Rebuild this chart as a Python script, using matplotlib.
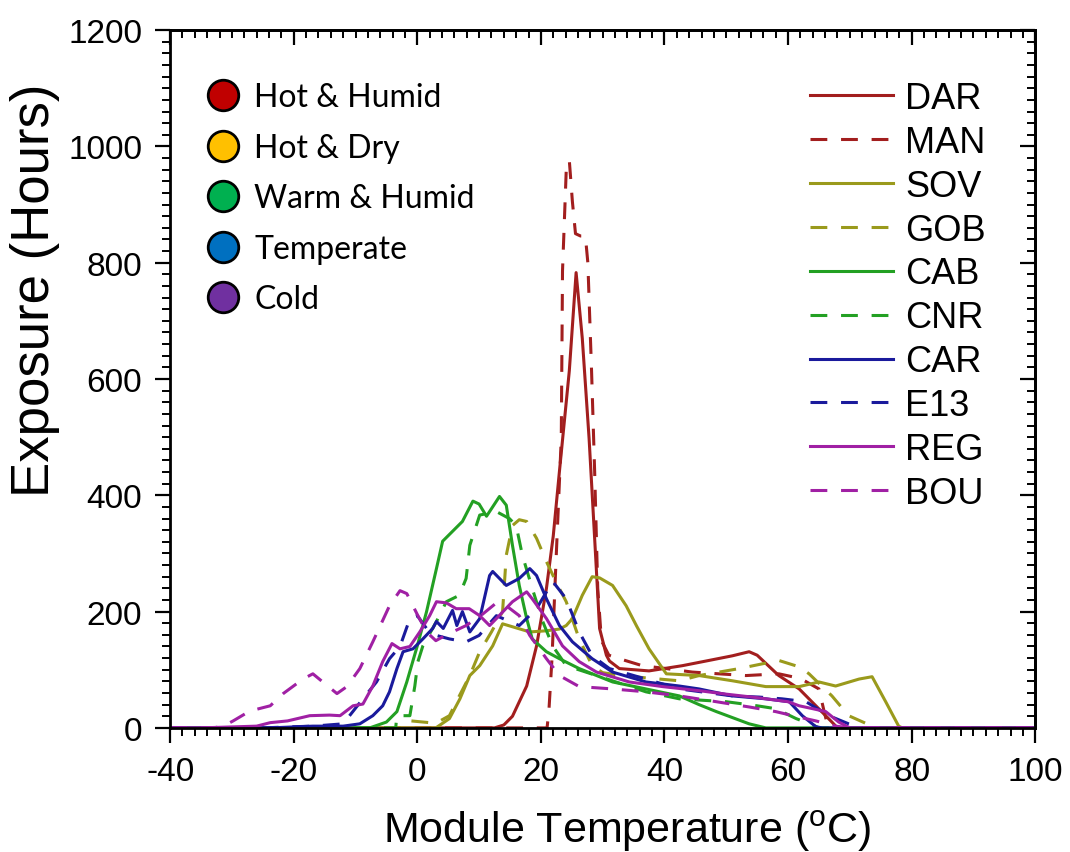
import matplotlib
matplotlib.use("Agg")
import matplotlib.pyplot as plt
from matplotlib.lines import Line2D
from matplotlib.ticker import MultipleLocator

plt.rcParams['font.family'] = ['Liberation Sans', 'DejaVu Sans']
plt.rcParams['mathtext.fontset'] = 'custom'
plt.rcParams['mathtext.rm'] = 'Liberation Sans'
plt.rcParams['axes.unicode_minus'] = False

# module temperature (C) vs exposure (hours)
DAR_x = [-40, 12.5, 14, 15.4, 17.7, 19.3, 20.9, 22, 23, 24.6, 25.7, 26.7, 27.8, 28.7, 29.5, 30.6, 31.1,
         32.7, 37.5, 42.9, 47.2, 51, 53.7, 55, 58.5, 61.8, 64.5, 67.1, 68, 100]
DAR_y = [0, 0, 5, 20, 72, 141, 240, 330, 441, 614, 783, 670, 498, 326, 171, 125, 115,
         102, 98, 107, 116, 124, 131, 125, 90, 67, 38, 10, 0, 0]

MAN_x = [-40, 21.0, 21.3, 21.8, 22.5, 23.3, 23.5, 24.1, 24.6, 25.1, 25.6, 26.4, 27.2, 27.6, 28.2, 28.7,
         29.2, 29.8, 31.0, 32.7, 36.4, 40.3, 44.5, 48.8, 53.2, 58.5, 62, 65, 65.8, 66.5, 100]
MAN_y = [0, 0, 30, 120, 300, 498, 786, 958, 976, 905, 850, 846, 846, 800, 614, 441,
         240, 150, 125, 119, 107, 102, 96, 93, 90, 93, 85, 67, 30, 0, 0]

SOV_x = [-40, 3.0, 5.2, 6.9, 8.5, 10.1, 12.2, 13.8, 16, 18.2, 20.9, 23, 24.1, 25.1, 26.7, 28.3, 29.5,
         31.6, 33.8, 35.5, 37.5, 40.3, 45.6, 51, 56.4, 61.8, 65, 67.7, 71.5, 73.6, 75.8, 77.9, 78.5, 100]
SOV_y = [0, 0, 16, 50, 90, 107, 141, 179, 172, 165, 167, 170, 176, 188, 228, 260, 258,
         245, 210, 175, 136, 93, 90, 81, 71, 71, 79, 72, 84, 88, 45, 3, 0, 0]

GOB_x = [-40, -2, -1, 1, 3, 5.2, 6.8, 8.5, 10.1, 12, 13.8, 14.4, 15.4, 16.5, 17.7, 19.3, 20.9, 22.5,
         24.1, 26.2, 28.3, 30, 33, 37, 42.4, 45.6, 52.1, 58.5, 61.8, 63.4, 67.1, 69.8, 73.6, 74.5, 100]
GOB_y = [0, 0, 12, 10, 8, 21, 55, 90, 131, 165, 200, 297, 348, 358, 355, 326, 286, 250,
         217, 153, 107, 95, 90, 86, 81, 90, 102, 116, 105, 93, 55, 21, 3, 0, 0]

CAB_x = [-40, -7.7, -5, -3.3, -1.7, 0, 1.5, 3.1, 4.1, 5.7, 7.3, 9, 10, 11.2, 12.5, 13.3, 14.4, 15.4,
         16.5, 17.7, 18.6, 20.9, 23, 26.2, 31.6, 37, 42.4, 45.6, 48.4, 53.7, 56.4, 100]
CAB_y = [0, 0, 10, 28, 79, 141, 200, 274, 321, 338, 355, 390, 385, 364, 385, 398, 383, 314,
         245, 188, 153, 131, 119, 102, 79, 67, 55, 40, 28, 7, 0, 0]

CNR_x = [-40, -3.5, -3.3, -1.2, -0.4, 0.1, 0.9, 3.1, 4.7, 6.8, 7.9, 8.5, 10.1, 12.8, 14.9, 16, 17,
         18.6, 20.3, 21.9, 24.1, 29, 37, 42.4, 50, 55, 58, 61.3, 64, 65, 100]
CNR_y = [0, 0, 21, 21, 72, 114, 141, 183, 217, 228, 257, 314, 366, 372, 360, 348, 297,
         240, 183, 141, 107, 90, 62, 50, 45, 38, 33, 16, 5, 0, 0]

CAR_x = [-40, -23.8, -16.9, -12, -9.3, -7.2, -5.6, -4.5, -3.3, -2.3, -0.7, 0.9, 2.5, 3.1, 4.2, 5.7,
         6.4, 7.3, 8.5, 10.1, 11.7, 12.2, 14.4, 16.5, 18.2, 19.3, 20.9, 23, 25.1, 28.3, 31.6, 37,
         42.4, 45.6, 51, 56.4, 60.2, 62.3, 64.5, 65.5, 100]
CAR_y = [0, 0, 3, 3, 7, 21, 38, 62, 102, 131, 136, 153, 171, 183, 171, 202,
         176, 200, 165, 188, 262, 269, 245, 257, 274, 262, 222, 176, 148, 119, 96, 79,
         72, 67, 55, 50, 45, 21, 2, 0, 0]

E13_x = [-40, -25, -20, -16.9, -12, -8.8, -6.6, -4.5, -2.8, -1.2, 0, 1.5, 3.1, 5.2, 7.9, 10, 12.8,
         14.5, 16.5, 19.3, 21.9, 24.1, 26.2, 28.3, 31.1, 37, 42.4, 51, 55.3, 59, 62.9, 66.6, 69.8,
         71.9, 100]
E13_y = [0, 0, 2, 3, 7, 50, 79, 119, 140, 188, 193, 171, 159, 153, 148, 159, 193,
         185, 176, 205, 252, 222, 165, 124, 102, 84, 67, 55, 53, 50, 45, 21, 7,
         0, 0]

REG_x = [-40, -35, -26, -23.8, -21, -17.4, -14.2, -12.5, -10.4, -8.8, -7.2, -5.6, -4.1, -2.8, -1.2,
         0.4, 2, 3.1, 4.7, 6.3, 8.4, 10.1, 11.7, 12.8, 15.4, 17.7, 18.6, 20.9, 23.5, 26.2, 29, 34.3,
         39.7, 45.6, 50, 55, 60, 61.8, 64, 66.1, 68.2, 70, 100]
REG_y = [0, 0, 3, 9, 12, 21, 22, 21, 38, 41, 72, 114, 145, 136, 140,
         165, 193, 217, 215, 205, 205, 193, 176, 188, 217, 234, 222, 188, 141, 114, 96, 79,
         71, 64, 58, 52, 45, 38, 33, 28, 10, 0, 0]

BOU_x = [-40, -33, -31.4, -29.8, -27.1, -23.8, -21.7, -18.5, -16.9, -15.3, -13, -11.4, -9.3, -7.2,
         -4.5, -2.8, -1.7, 0, 1.5, 3, 4.7, 7.9, 10.5, 12.8, 14.4, 16.5, 18.2, 20.9, 23, 26.2, 31.6,
         37, 42.4, 48.4, 53.7, 58, 62, 64.5, 67.7, 70, 100]
BOU_y = [0, 0, 3, 12, 29, 38, 59, 84, 93, 79, 59, 71, 102, 148,
         210, 236, 231, 195, 165, 150, 160, 176, 195, 215, 210, 193, 159, 119, 90, 71, 67,
         62, 55, 45, 36, 28, 18, 12, 3, 0, 0]

climates = ['Hot & Humid', 'Hot & Dry', 'Warm & Humid', 'Temperate', 'Cold']
climate_colors = ['#C00000', '#FFC000', '#00B050', '#0070C0', '#7030A0']

red, olive, green, blue, purple = '#A21E1E', '#9A9A1C', '#23A023', '#1A1A9C', '#A020A4'
dashed = (0, (5.5, 4.5))

series = [
    ('DAR', DAR_x, DAR_y, red, '-'),
    ('MAN', MAN_x, MAN_y, red, dashed),
    ('SOV', SOV_x, SOV_y, olive, '-'),
    ('GOB', GOB_x, GOB_y, olive, dashed),
    ('CAB', CAB_x, CAB_y, green, '-'),
    ('CNR', CNR_x, CNR_y, green, dashed),
    ('CAR', CAR_x, CAR_y, blue, '-'),
    ('E13', E13_x, E13_y, blue, dashed),
    ('REG', REG_x, REG_y, purple, '-'),
    ('BOU', BOU_x, BOU_y, purple, dashed),
]

fig = plt.figure(figsize=(10.7, 8.53), dpi=100)
ax = fig.add_axes([0.159, 0.1455, 0.8085, 0.818])

lines = []
for name, xs, ys, col, ls in series:
    ln, = ax.plot(xs, ys, color=col, ls=ls, lw=2.2, label=name)
    lines.append(ln)

ax.set_xlim(-40, 100)
ax.set_ylim(0, 1200)
ax.xaxis.set_major_locator(MultipleLocator(20))
ax.xaxis.set_minor_locator(MultipleLocator(2))
ax.yaxis.set_major_locator(MultipleLocator(200))
ax.yaxis.set_minor_locator(MultipleLocator(20))
for sp in ax.spines.values():
    sp.set_linewidth(2)
ax.tick_params(which='major', direction='out', length=11, width=1.6, labelsize=24, pad=9)
ax.tick_params(which='minor', direction='out', length=6, width=1.4)

# top / right ticks point inwards
top = ax.secondary_xaxis('top')
right = ax.secondary_yaxis('right')
top.xaxis.set_major_locator(MultipleLocator(20))
top.xaxis.set_minor_locator(MultipleLocator(2))
right.yaxis.set_major_locator(MultipleLocator(200))
right.yaxis.set_minor_locator(MultipleLocator(20))
for sec in (top, right):
    sec.tick_params(which='major', direction='in', length=11, width=1.6,
                    labelbottom=False, labeltop=False, labelleft=False, labelright=False)
    sec.tick_params(which='minor', direction='in', length=6, width=1.4)
    for sp in sec.spines.values():
        sp.set_linewidth(2)

ax.set_xlabel(r'Module Temperature ($^{\mathrm{o}}$C)', fontsize=31)
ax.set_ylabel('Exposure (Hours)', fontsize=38)
ax.xaxis.set_label_coords(0.528, -0.114)
ax.yaxis.set_label_coords(-0.127, 0.628)

leg_sites = ax.legend(handles=lines, loc='upper left', bbox_to_anchor=(0.740, 0.927),
                      frameon=False, fontsize=26, handlelength=2.3, handletextpad=0.33,
                      labelspacing=0.245, borderpad=0, borderaxespad=0)
ax.add_artist(leg_sites)

dots = [Line2D([], [], ls='none', marker='o', ms=22, mfc=c, mec='black', mew=2)
        for c in climate_colors]
ax.legend(handles=dots, labels=climates, loc='upper left', bbox_to_anchor=(0.043, 0.925),
          frameon=False, prop={'family': 'Lato', 'size': 23}, handlelength=1.0,
          handletextpad=0.47, labelspacing=0.64, borderpad=0, borderaxespad=0)

fig.savefig('out.png', dpi=100)
